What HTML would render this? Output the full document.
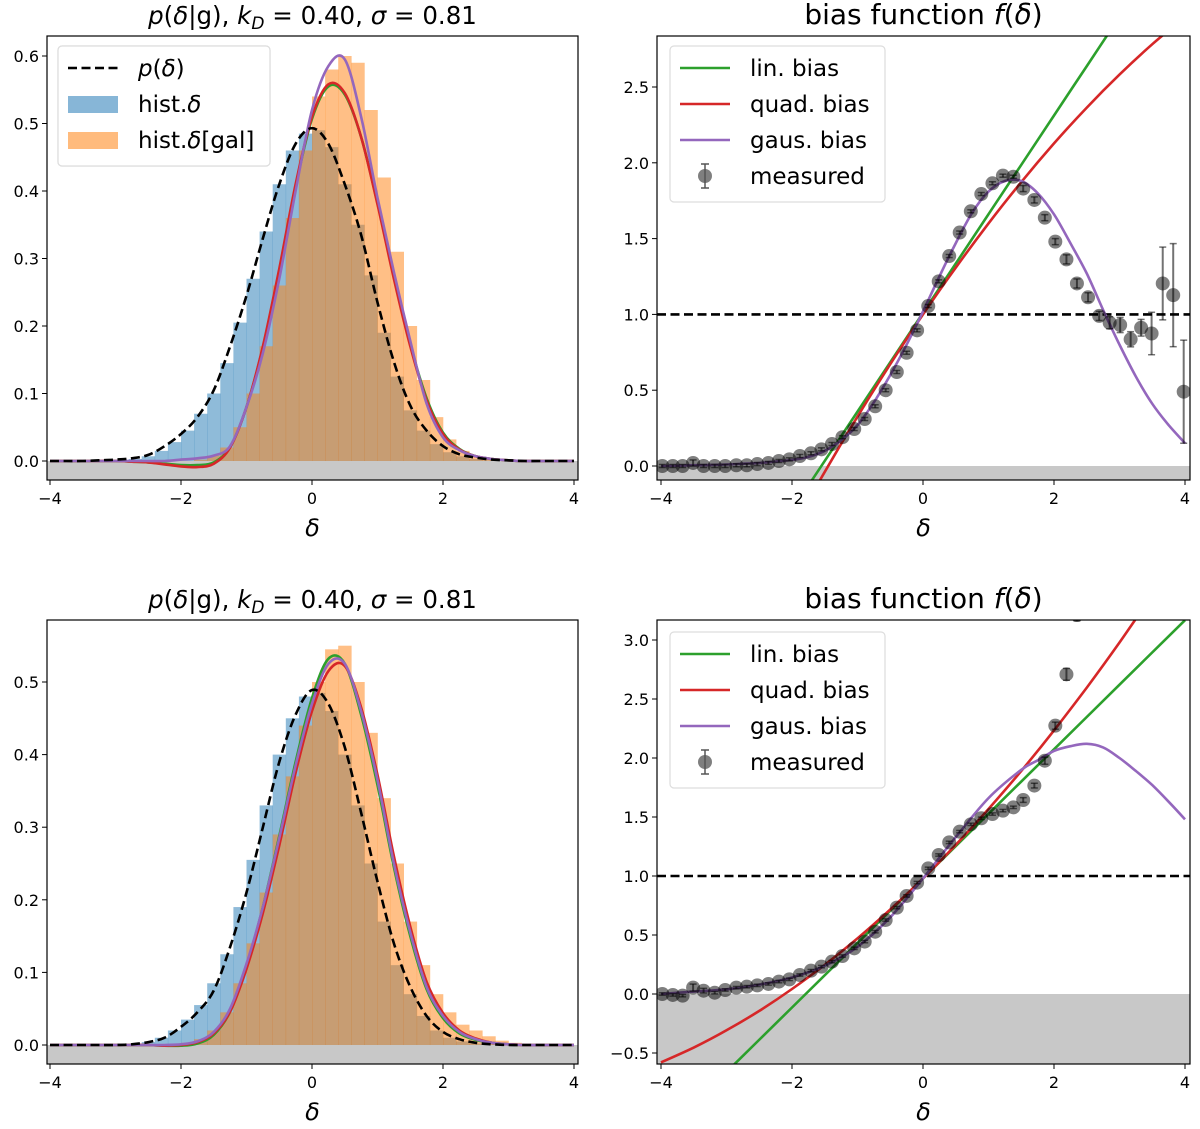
<!DOCTYPE html>
<html><head><meta charset="utf-8"><style>
html,body{margin:0;padding:0;background:#fff;width:1200px;height:1129px;overflow:hidden;}
svg{display:block;font-family:"DejaVu Sans","Liberation Sans",sans-serif;}
</style></head><body>
<svg id="fig" width="1200" height="1129" viewBox="0 0 1200 1129" xmlns="http://www.w3.org/2000/svg"></svg>
<script>
// ---------- DATA ----------
const xs25 = [-4,-3.75,-3.5,-3.25,-3,-2.75,-2.5,-2.25,-2,-1.75,-1.5,-1.25,-1,-0.75,-0.5,-0.25,0,0.25,0.5,0.75,1,1.25,1.5,1.75,2,2.25,2.5,2.75,3,3.25,3.5,3.75,4];
const binCenters = [-2.9,-2.7,-2.5,-2.3,-2.1,-1.9,-1.7,-1.5,-1.3,-1.1,-0.9,-0.7,-0.5,-0.3,-0.1,0.1,0.3,0.5,0.7,0.9,1.1,1.3,1.5,1.7,1.9,2.1,2.3,2.5,2.7,2.9,3.1];
// top-left
const tlP = [0,0,0,0.001,0.002,0.004,0.009,0.022,0.04,0.065,0.105,0.17,0.245,0.33,0.41,0.47,0.493,0.47,0.41,0.335,0.235,0.147,0.082,0.045,0.022,0.01,0.005,0.002,0.001,0,0,0,0];
const tlPurple = [0,0,0,0,0,0,0,0,0.002,0.004,0.008,0.022,0.08,0.16,0.27,0.4,0.52,0.585,0.595,0.51,0.39,0.28,0.178,0.085,0.035,0.016,0.007,0.003,0.001,0,0,0,0];
const tlRed = [0,0,0,0,0,-0.001,-0.002,-0.005,-0.008,-0.009,-0.004,0.02,0.08,0.17,0.285,0.41,0.51,0.558,0.545,0.48,0.38,0.27,0.17,0.09,0.04,0.017,0.007,0.003,0.001,0,0,0,0];
const tlGreen = [0,0,0,0,0,-0.001,-0.002,-0.004,-0.006,-0.006,-0.002,0.021,0.08,0.168,0.282,0.407,0.507,0.555,0.543,0.48,0.382,0.273,0.173,0.093,0.042,0.018,0.007,0.003,0.001,0,0,0,0];
const tlHistD = [0.001,0.003,0.007,0.015,0.028,0.045,0.07,0.1,0.145,0.205,0.27,0.34,0.41,0.46,0.485,0.49,0.465,0.41,0.35,0.275,0.19,0.125,0.075,0.045,0.025,0.013,0.007,0.003,0.001,0,0];
const tlHistG = [0,0,0,0,0,0,0.002,0.008,0.02,0.05,0.1,0.17,0.26,0.36,0.46,0.54,0.58,0.6,0.59,0.52,0.42,0.31,0.2,0.12,0.065,0.032,0.015,0.007,0.003,0.001,0];
// bottom-left
const blP = [0,0,0,0,0,0.001,0.004,0.01,0.025,0.045,0.075,0.135,0.21,0.3,0.39,0.455,0.489,0.47,0.41,0.32,0.225,0.14,0.08,0.04,0.018,0.008,0.003,0.001,0,0,0,0,0];
const blPurple = [0,0,0,0,0,0,0,0,0.001,0.005,0.018,0.05,0.112,0.19,0.285,0.385,0.47,0.525,0.525,0.46,0.365,0.25,0.155,0.08,0.04,0.018,0.008,0.003,0.001,0,0,0,0];
const blRed = [0,0,0,0,0,0,0,-0.001,0,0.004,0.016,0.046,0.105,0.182,0.275,0.375,0.46,0.515,0.522,0.465,0.372,0.26,0.163,0.087,0.044,0.02,0.009,0.003,0.001,0,0,0,0];
const blGreen = [0,0,0,0,0,0,0,-0.001,-0.001,0.002,0.014,0.046,0.108,0.19,0.288,0.39,0.478,0.532,0.525,0.455,0.358,0.245,0.15,0.077,0.037,0.016,0.007,0.003,0.001,0,0,0,0];
const blHistD = [0,0.001,0.004,0.01,0.02,0.035,0.055,0.085,0.125,0.19,0.255,0.33,0.4,0.45,0.48,0.485,0.46,0.4,0.33,0.25,0.17,0.11,0.07,0.04,0.02,0.01,0.005,0.002,0.001,0,0];
const blHistG = [0,0,0,0,0.001,0.003,0.008,0.02,0.045,0.085,0.14,0.21,0.29,0.37,0.44,0.5,0.545,0.55,0.5,0.43,0.34,0.25,0.17,0.11,0.07,0.045,0.028,0.02,0.012,0.006,0.003];
// top-right
const trMx = [-3.98,-3.82,-3.67,-3.51,-3.35,-3.18,-3.02,-2.85,-2.69,-2.53,-2.36,-2.20,-2.04,-1.88,-1.71,-1.55,-1.39,-1.23,-1.05,-0.89,-0.73,-0.57,-0.40,-0.25,-0.09,0.08,0.24,0.40,0.56,0.73,0.89,1.06,1.22,1.38,1.53,1.70,1.86,2.02,2.19,2.35,2.52,2.69,2.85,3.01,3.17,3.33,3.49,3.66,3.82,3.98];
const trMy = [0,0,0,0.02,0,0,0,0.005,0.005,0.013,0.02,0.033,0.044,0.066,0.084,0.11,0.145,0.19,0.244,0.31,0.394,0.5,0.62,0.747,0.895,1.055,1.218,1.385,1.54,1.68,1.794,1.865,1.915,1.908,1.83,1.755,1.638,1.48,1.363,1.204,1.113,0.99,0.945,0.93,0.836,0.912,0.874,1.204,1.127,0.49];
const trMerr = [0.01,0.01,0.01,0.02,0.01,0.01,0.01,0.01,0.01,0.01,0.01,0.01,0.01,0.01,0.01,0.01,0.01,0.01,0.01,0.01,0.01,0.01,0.01,0.01,0.01,0.01,0.01,0.01,0.01,0.01,0.01,0.01,0.01,0.01,0.02,0.02,0.02,0.02,0.03,0.03,0.03,0.03,0.04,0.05,0.05,0.055,0.14,0.24,0.34,0.34];
const trLinX = [-2,-1.5,-1,-0.5,0,0.5,1,1.5,2,2.5,3];
const trLin = [-0.292,0.034,0.359,0.685,1.01,1.336,1.661,1.987,2.312,2.638,2.963];
const trQuadX = [-2,-1.5,-1,-0.5,0,0.5,1,1.5,2,2.5,3,3.5,4];
const trQuad = [-0.42,-0.038,0.326,0.672,1,1.309,1.6,1.873,2.128,2.364,2.582,2.782,2.962];
const trGaus = [0,0.002,0.005,0.007,0.01,0.015,0.02,0.03,0.04,0.06,0.1,0.17,0.27,0.42,0.6,0.8,1.02,1.25,1.47,1.67,1.81,1.88,1.88,1.8,1.66,1.47,1.27,1.03,0.8,0.59,0.41,0.27,0.15];
// bottom-right
const brMx = [-3.98,-3.82,-3.67,-3.51,-3.35,-3.18,-3.02,-2.85,-2.69,-2.53,-2.36,-2.20,-2.04,-1.88,-1.71,-1.55,-1.39,-1.23,-1.05,-0.89,-0.73,-0.57,-0.40,-0.25,-0.09,0.08,0.24,0.40,0.56,0.73,0.89,1.06,1.22,1.38,1.53,1.70,1.86,2.02,2.19,2.35];
const brMy = [0,-0.008,-0.014,0.054,0.028,0.011,0.034,0.054,0.062,0.073,0.085,0.105,0.124,0.161,0.198,0.232,0.274,0.322,0.387,0.444,0.528,0.627,0.732,0.831,0.944,1.065,1.178,1.285,1.376,1.438,1.489,1.525,1.554,1.582,1.644,1.766,1.977,2.274,2.709,3.212];
const brMerr = [0.01,0.01,0.01,0.03,0.02,0.01,0.01,0.01,0.01,0.01,0.01,0.01,0.01,0.01,0.01,0.01,0.01,0.01,0.01,0.01,0.01,0.01,0.01,0.01,0.01,0.01,0.01,0.01,0.01,0.01,0.01,0.01,0.01,0.01,0.02,0.02,0.03,0.03,0.05,0.05];
const brLinX = [-4,-3,-2,-1,0,1,2,3,4];
const brLin = [-1.208,-0.661,-0.114,0.433,0.98,1.527,2.074,2.621,3.168];
const brQuadX = [-4,-3.5,-3,-2.5,-2,-1.5,-1,-0.5,0,0.5,1,1.5,2,2.5,3,3.5];
const brQuad = [-0.58,-0.454,-0.308,-0.143,0.042,0.247,0.471,0.716,0.98,1.264,1.568,1.891,2.234,2.597,2.979,3.382];
const brGausX = [-4,-3.5,-3,-2.5,-2,-1.5,-1,-0.5,0,0.5,1,1.5,1.75,2,2.25,2.5,2.75,3,3.25,3.5,3.75,4];
const brGaus = [0,0.02,0.04,0.08,0.14,0.24,0.4,0.65,0.98,1.33,1.66,1.9,1.98,2.06,2.1,2.12,2.09,2.0,1.89,1.77,1.63,1.48];

// ---------- DRAWING ----------
const NS='http://www.w3.org/2000/svg';
const svg=document.getElementById('fig');
function mk(tag,attrs,parent){const e=document.createElementNS(NS,tag);for(const k in attrs)e.setAttribute(k,attrs[k]);(parent||svg).appendChild(e);return e;}
const C={blue:'#1f77b4',orange:'#ff7f0e',green:'#2ca02c',red:'#d62728',purple:'#9467bd'};

function makePanel(id,ax,cx,zero,k,yticks,title){
  const g=mk('g',{});
  
  
  const sx=d=>cx+65.5*d, sy=v=>zero-k*v;
  const cp=mk('clipPath',{id:'clip-'+id},g);mk('rect',{x:ax[0],y:ax[1],width:ax[2],height:ax[3]},cp);
  const plot=mk('g',{'clip-path':'url(#clip-'+id+')'},g);
  return {g,plot,sx,sy,ax,yticks,title,id};
}
function smooth(P,xs,ys){
  const pts=xs.map((v,i)=>[P.sx(v),P.sy(ys[i])]);
  let d='M'+pts[0][0].toFixed(1)+' '+pts[0][1].toFixed(1);
  for(let i=0;i<pts.length-1;i++){
    const p0=pts[Math.max(0,i-1)],p1=pts[i],p2=pts[i+1],p3=pts[Math.min(pts.length-1,i+2)];
    const c1=[p1[0]+(p2[0]-p0[0])/6,p1[1]+(p2[1]-p0[1])/6],c2=[p2[0]-(p3[0]-p1[0])/6,p2[1]-(p3[1]-p1[1])/6];
    d+=' C'+c1[0].toFixed(1)+' '+c1[1].toFixed(1)+' '+c2[0].toFixed(1)+' '+c2[1].toFixed(1)+' '+p2[0].toFixed(1)+' '+p2[1].toFixed(1);
  }
  return d;
}
function finish(P){
  const [x,y,w,h]=P.ax;
  const fr=mk('rect',{x:x,y:y,width:w,height:h,fill:'none',stroke:'#000','stroke-width':1.2},P.g);
  
  for(const t of [-4,-2,0,2,4]){
    const px=P.sx(t);mk('line',{x1:px,x2:px,y1:y+h,y2:y+h+5,stroke:'#000','stroke-width':1},P.g);
    const tx=mk('text',{x:px,y:y+h+24,'text-anchor':'middle','font-size':16},P.g);tx.textContent=(t<0?'\u2212':'')+Math.abs(t);
    
  }
  for(const t of P.yticks){
    const py=P.sy(t);mk('line',{x1:x-5,x2:x,y1:py,y2:py,stroke:'#000','stroke-width':1},P.g);
    const tx=mk('text',{x:x-8,y:py+6,'text-anchor':'end','font-size':16},P.g);tx.textContent=(t<0?'\u2212':'')+Math.abs(t).toFixed(1);
    
  }
  const xl=mk('text',{x:x+w/2,y:y+h+56,'text-anchor':'middle','font-size':24,'font-style':'italic'},P.g);xl.textContent='\u03b4';
  
  const tt=mk('text',{x:x+w/2,y:y-12,'text-anchor':'middle','font-size':P.tsize||25},P.g);tt.innerHTML=P.title;
  
}
function line(P,xs,ys,col,extra,name){
  const e=mk('path',Object.assign({d:smooth(P,xs,ys),fill:'none',stroke:col,'stroke-width':2.6},extra||{}),P.plot);
  
}
function hist(P,vals,col,name){
  const g=mk('g',{},P.plot);
  binCenters.forEach((c,i)=>{
    const x0=P.sx(c-0.1),x1=P.sx(c+0.1),y0=P.sy(vals[i]),yb=P.sy(0);
    const r=mk('rect',{x:x0,y:y0,width:x1-x0+0.3,height:Math.max(0,yb-y0),fill:col,'fill-opacity':0.5},g);
    
  });
}
function grayFill(P){
  const r=mk('rect',{x:P.ax[0],y:P.sy(0),width:P.ax[2],height:P.ax[1]+P.ax[3]-P.sy(0),fill:'#c8c8c8'},P.plot);
  
}
function points(P,xs,ys,es,name){
  const g=mk('g',{},P.plot);
  xs.forEach((x,i)=>{
    const px=P.sx(x),py=P.sy(ys[i]),e1=P.sy(ys[i]+es[i]),e2=P.sy(ys[i]-es[i]);
    const c=mk('circle',{cx:px,cy:py,r:7,fill:'#000','fill-opacity':0.5},g);
    
    mk('line',{x1:px,x2:px,y1:e1,y2:e2,stroke:'#000','stroke-opacity':0.55,'stroke-width':2},g);
    mk('line',{x1:px-3.5,x2:px+3.5,y1:e1,y2:e1,stroke:'#000','stroke-opacity':0.55,'stroke-width':1.5},g);
    mk('line',{x1:px-3.5,x2:px+3.5,y1:e2,y2:e2,stroke:'#000','stroke-opacity':0.55,'stroke-width':1.5},g);
  });
}
function hline(P,v){
  const e=mk('line',{x1:P.ax[0],x2:P.ax[0]+P.ax[2],y1:P.sy(v),y2:P.sy(v),stroke:'#000','stroke-width':2.6,'stroke-dasharray':'9,4.5'},P.plot);
  
}
function legend(P,x,y,w,entries){
  const g=mk('g',{},P.g);
  mk('rect',{x:x,y:y,width:w,height:entries.length*36+12,rx:4,fill:'#fff','fill-opacity':0.85,stroke:'#ddd','stroke-width':1.2},g);
  entries.forEach((en,i)=>{
    const cy=y+22+i*36;
    const eg=mk('g',{},g);
    if(en.type==='line')mk('line',{x1:x+10,x2:x+60,y1:cy,y2:cy,stroke:en.col,'stroke-width':2.6,'stroke-dasharray':en.dash||''},eg);
    if(en.type==='patch')mk('rect',{x:x+10,y:cy-8,width:50,height:17,fill:en.col,'fill-opacity':0.5},eg);
    if(en.type==='pt'){mk('circle',{cx:x+35,cy:cy,r:7,fill:'#000','fill-opacity':0.5},eg);mk('line',{x1:x+35,x2:x+35,y1:cy-12,y2:cy+12,stroke:'#555','stroke-width':1.5},eg);mk('line',{x1:x+31,x2:x+39,y1:cy-12,y2:cy-12,stroke:'#555','stroke-width':1.5},eg);mk('line',{x1:x+31,x2:x+39,y1:cy+12,y2:cy+12,stroke:'#555','stroke-width':1.5},eg);}
    const t=mk('text',{x:x+80,y:cy+8,'font-size':23},eg);t.innerHTML=en.label;
  });
}
const T1='<tspan font-style="italic">p</tspan>(<tspan font-style="italic">\u03b4</tspan>|g), <tspan font-style="italic">k</tspan><tspan font-size="17" dy="5" font-style="italic">D</tspan><tspan dy="-5"> = 0.40, </tspan><tspan font-style="italic">\u03c3</tspan> = 0.81';
const T2='bias function <tspan font-style="italic">f</tspan>(<tspan font-style="italic">\u03b4</tspan>)';
const leftLeg=[{type:'line',col:'#000',dash:'9,4.5',label:'<tspan font-style="italic">p</tspan>(<tspan font-style="italic">\u03b4</tspan>)'},{type:'patch',col:C.blue,label:'hist.<tspan font-style="italic">\u03b4</tspan>'},{type:'patch',col:C.orange,label:'hist.<tspan font-style="italic">\u03b4</tspan>[gal]'}];
const rightLeg=[{type:'line',col:C.green,label:'lin. bias'},{type:'line',col:C.red,label:'quad. bias'},{type:'line',col:C.purple,label:'gaus. bias'},{type:'pt',label:'measured'}];

function leftPanel(id,ax,zero,k,yt,hD,hG,p,gr,rd,pu){
  const P=makePanel(id,ax,312,zero,k,yt,T1);P.tsize=24.5;
  grayFill(P);
  hist(P,hD,C.blue,'hist-delta');hist(P,hG,C.orange,'hist-delta-gal');
  line(P,xs25,gr,C.green,{},'lin-bias-curve');line(P,xs25,rd,C.red,{},'quad-bias-curve');line(P,xs25,pu,C.purple,{},'gaus-bias-curve');
  line(P,xs25,p,'#000',{'stroke-dasharray':'9,4.5'},'p-delta-curve');
  finish(P);legend(P,58,46,212,leftLeg);
}
leftPanel('top-left-panel',[47,36,531,444],461,675,[0,0.1,0.2,0.3,0.4,0.5,0.6],tlHistD,tlHistG,tlP,tlGreen,tlRed,tlPurple);
leftPanel('bottom-left-panel',[47,620,531,444],1045,726,[0,0.1,0.2,0.3,0.4,0.5],blHistD,blHistG,blP,blGreen,blRed,blPurple);

(function(){
  const P=makePanel('top-right-panel',[657,36,533,444],923,466,151.6,[0,0.5,1,1.5,2,2.5],T2);P.tsize=28;
  grayFill(P);hline(P,1);
  line(P,trLinX,trLin,C.green,{},'lin-bias-line');line(P,trQuadX,trQuad,C.red,{},'quad-bias-line');line(P,xs25,trGaus,C.purple,{},'gaus-bias-line');
  points(P,trMx,trMy,trMerr,'measured-points');
  finish(P);legend(P,670,46,215,rightLeg);
})();
(function(){
  const P=makePanel('bottom-right-panel',[657,620,533,444],923,994,118,[-0.5,0,0.5,1,1.5,2,2.5,3],T2);P.tsize=28;
  grayFill(P);hline(P,1);
  line(P,brLinX,brLin,C.green,{},'lin-bias-line');line(P,brQuadX,brQuad,C.red,{},'quad-bias-line');line(P,brGausX,brGaus,C.purple,{},'gaus-bias-line');
  points(P,brMx,brMy,brMerr,'measured-points');
  finish(P);legend(P,670,632,215,rightLeg);
})();
</script>
</body></html>
